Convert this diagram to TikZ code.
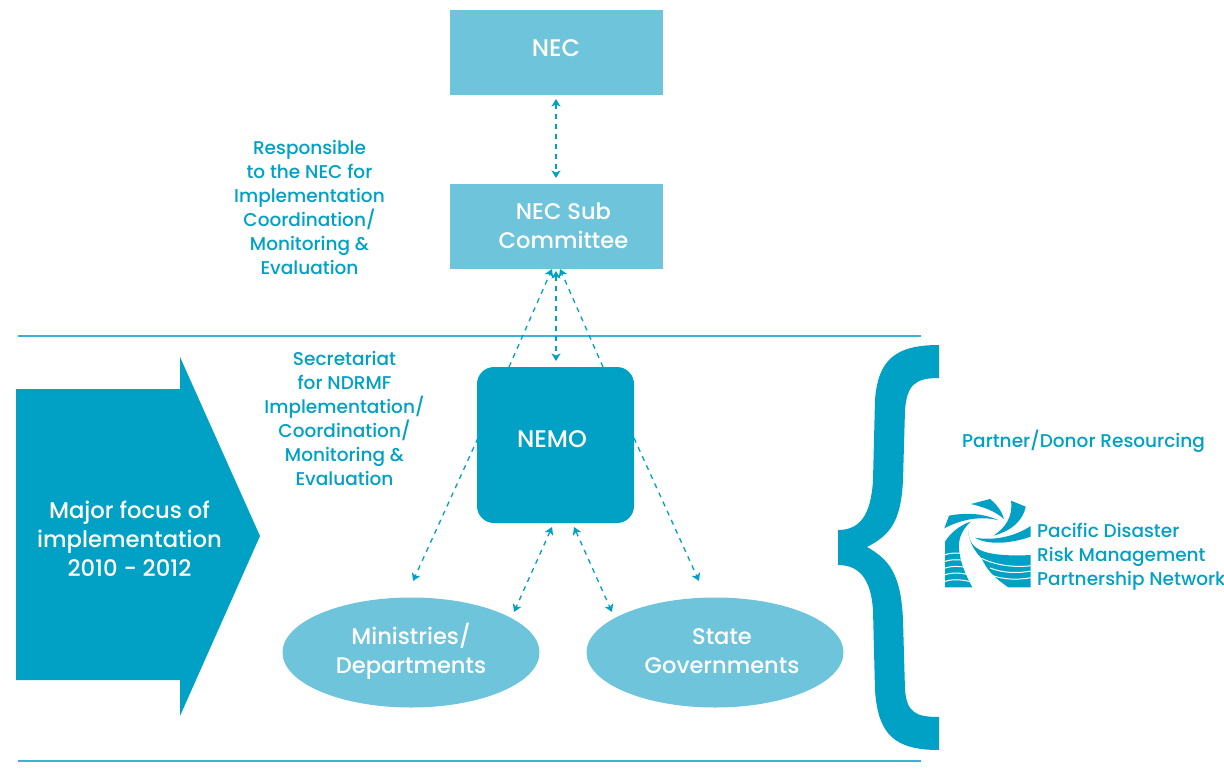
\documentclass[tikz,border=0pt]{standalone}
\usepackage{fontspec}
\setmainfont{Poppins Medium}
\usetikzlibrary{arrows.meta,shapes.geometric}
\definecolor{deep}{HTML}{00A1C4}
\definecolor{soft}{HTML}{6EC4DB}
\definecolor{rulec}{HTML}{38B4D2}
\tikzset{
 x=1pt,y=-1pt,
 softbox/.style={fill=soft,inner sep=0pt,minimum width=213pt,minimum height=85pt},
 softell/.style={ellipse,fill=soft,inner sep=0pt,minimum width=257pt,minimum height=110pt},
 inlabel/.style={text=white,align=center,font=\fontsize{22.6}{29}\selectfont,inner sep=0pt},
 biglabel/.style={text=white,font=\fontsize{24}{29}\selectfont,inner sep=0pt},
 note/.style={text=deep,align=center,font=\fontsize{18.5}{24}\selectfont,inner sep=0pt},
 link/.style={draw=deep,line width=1.3pt,dash pattern=on 5pt off 5pt},
 two/.style={link,{Stealth[length=7.5pt,width=9pt,inset=2pt]}-{Stealth[length=7.5pt,width=9pt,inset=2pt]}},
 one/.style={link,-{Stealth[length=7.5pt,width=9pt,inset=2pt]}},
 rulel/.style={draw=rulec,line width=1.2pt},
}
\begin{document}
\begin{tikzpicture}
\useasboundingbox (0,0) rectangle (1224,779);
\fill[white] (0,0) rectangle (1224,779);
\coordinate (r1a) at (18,336); \coordinate (r1b) at (921,336);
\coordinate (r2a) at (18,761); \coordinate (r2b) at (921,761);
\draw[rulel] (r1a) -- (r1b);
\draw[rulel] (r2a) -- (r2b);
\node[softbox] (nec) at (556.5,52.5) {};
\node[biglabel] (necl) at (556,48.5) {NEC};
\node[softbox] (sub) at (556.5,226.5) {};
\node[inlabel] (subl) at (563.5,225.5) {NEC Sub\\Committee};
\node[fill=deep,rounded corners=17pt,minimum width=157pt,minimum height=156pt,inner sep=0pt] (nemo) at (555.5,445) {};
\node[biglabel] (nemol) at (552,439) {NEMO};
\node[softell] (min) at (411,652.5) {};
\node[inlabel] (minl) at (411,651) {Ministries/\\Departments};
\node[softell] (state) at (715,652.5) {};
\node[inlabel] (statel) at (722,651) {State\\Governments};
\fill[deep] (16,389) -- (180,389) -- (180,357) -- (260,536) -- (180,716) -- (180,680) -- (16,680) -- cycle;
\node[text=white,align=center,font=\fontsize{22.7}{29}\selectfont,inner sep=0pt] (focus) at (129.5,539) {Major focus of\\implementation\\2010 - 2012};
\node[note] (resp) at (309.5,207.5) {Responsible\\to the NEC for\\Implementation\\Coordination/\\Monitoring \&\\Evaluation};
\node[note] (secr) at (344.5,418.5) {Secretariat\\for NDRMF\\Implementation/\\Coordination/\\Monitoring \&\\Evaluation};
\node[note,anchor=west] (partner) at (962,441) {Partner/Donor Resourcing};
\node[note,anchor=west,align=left] (pdr) at (1037,556.5) {Pacific Disaster\\Risk Management\\Partnership Network};
% connectors
\coordinate (a1) at (556,99); \coordinate (a2) at (556,178);
\draw[two] (a1) -- (a2);
\coordinate (b1) at (556,271); \coordinate (b2) at (556,361);
\draw[two] (b1) -- (b2);
\coordinate (c1) at (509,367); \coordinate (c2) at (552,269);
\draw[one] (c1) -- (c2);
\coordinate (d1) at (603,367); \coordinate (d2) at (560,269);
\draw[one] (d1) -- (d2);
\coordinate (e1) at (478,438); \coordinate (e2) at (413,581);
\draw[one] (e1) -- (e2);
\coordinate (f1) at (634,438); \coordinate (f2) at (699,581);
\draw[one] (f1) -- (f2);
\coordinate (g1) at (552,527); \coordinate (g2) at (514,612);
\draw[two] (g1) -- (g2);
\coordinate (h1) at (574,527); \coordinate (h2) at (612,612);
\draw[two] (h1) -- (h2);
% brace
\fill[deep] (939,345) -- (939,378)
 .. controls (915,378) and (907,385) .. (905,410)
 -- (903,480) .. controls (901,522) and (890,535) .. (867,547)
 .. controls (890,560) and (901,575) .. (903,620)
 -- (905,690) .. controls (907,712) and (915,717) .. (939,717)
 -- (939,750) .. controls (895,750) and (878,735) .. (875,690)
 -- (873,610) .. controls (871,580) and (860,565) .. (838,565)
 -- (838,530) .. controls (860,530) and (871,515) .. (873,480)
 -- (875,400) .. controls (878,360) and (895,345) .. (939,345) -- cycle;
% logo
\begin{scope}[shift={(940,495)},x=0.3333pt,y=-0.3333pt]
\fill[deep] (93,27) -- (150,12) .. controls (172,30) and (186,50) .. (192,72) .. controls (165,48) and (130,36) .. (93,27) -- cycle;
\fill[deep] (213,17) -- (257,35) .. controls (250,75) and (215,108) .. (160,122) .. controls (195,100) and (220,65) .. (213,17) -- cycle;
\fill[deep] (13,100) -- (27,62) .. controls (80,52) and (130,55) .. (176,76) .. controls (125,62) and (65,72) .. (13,100) -- cycle;
\fill[deep] (272,93) -- (272,125) .. controls (215,145) and (145,152) .. (105,128) .. controls (160,138) and (225,125) .. (272,93) -- cycle;
\fill[deep] (15,140) .. controls (30,115) and (60,90) .. (92,80) .. controls (65,105) and (52,135) .. (58,170) .. controls (63,210) and (82,250) .. (97,277) -- (15,277) -- cycle;
\fill[deep] (85,105) .. controls (85,150) and (110,170) .. (170,178) .. controls (205,182) and (240,182) .. (272,180) -- (272,277) -- (205,277) .. controls (165,250) and (140,225) .. (125,190) .. controls (100,165) and (85,135) .. (85,105) -- cycle;
\draw[white,line width=1pt] (125,190) .. controls (170,212) and (225,218) .. (274,212);
\foreach \yy in {233,253}{
 \draw[white,line width=1pt] (150,\yy-14) .. controls (190,\yy+2) and (235,\yy+2) .. (274,\yy-5);
}
\foreach \yy in {180,200,220,240,260}{
 \draw[white,line width=1pt] (13,\yy) .. controls (35,\yy-8) and (60,\yy-8) .. (100,\yy+2);
}
\end{scope}
\end{tikzpicture}
\end{document}
